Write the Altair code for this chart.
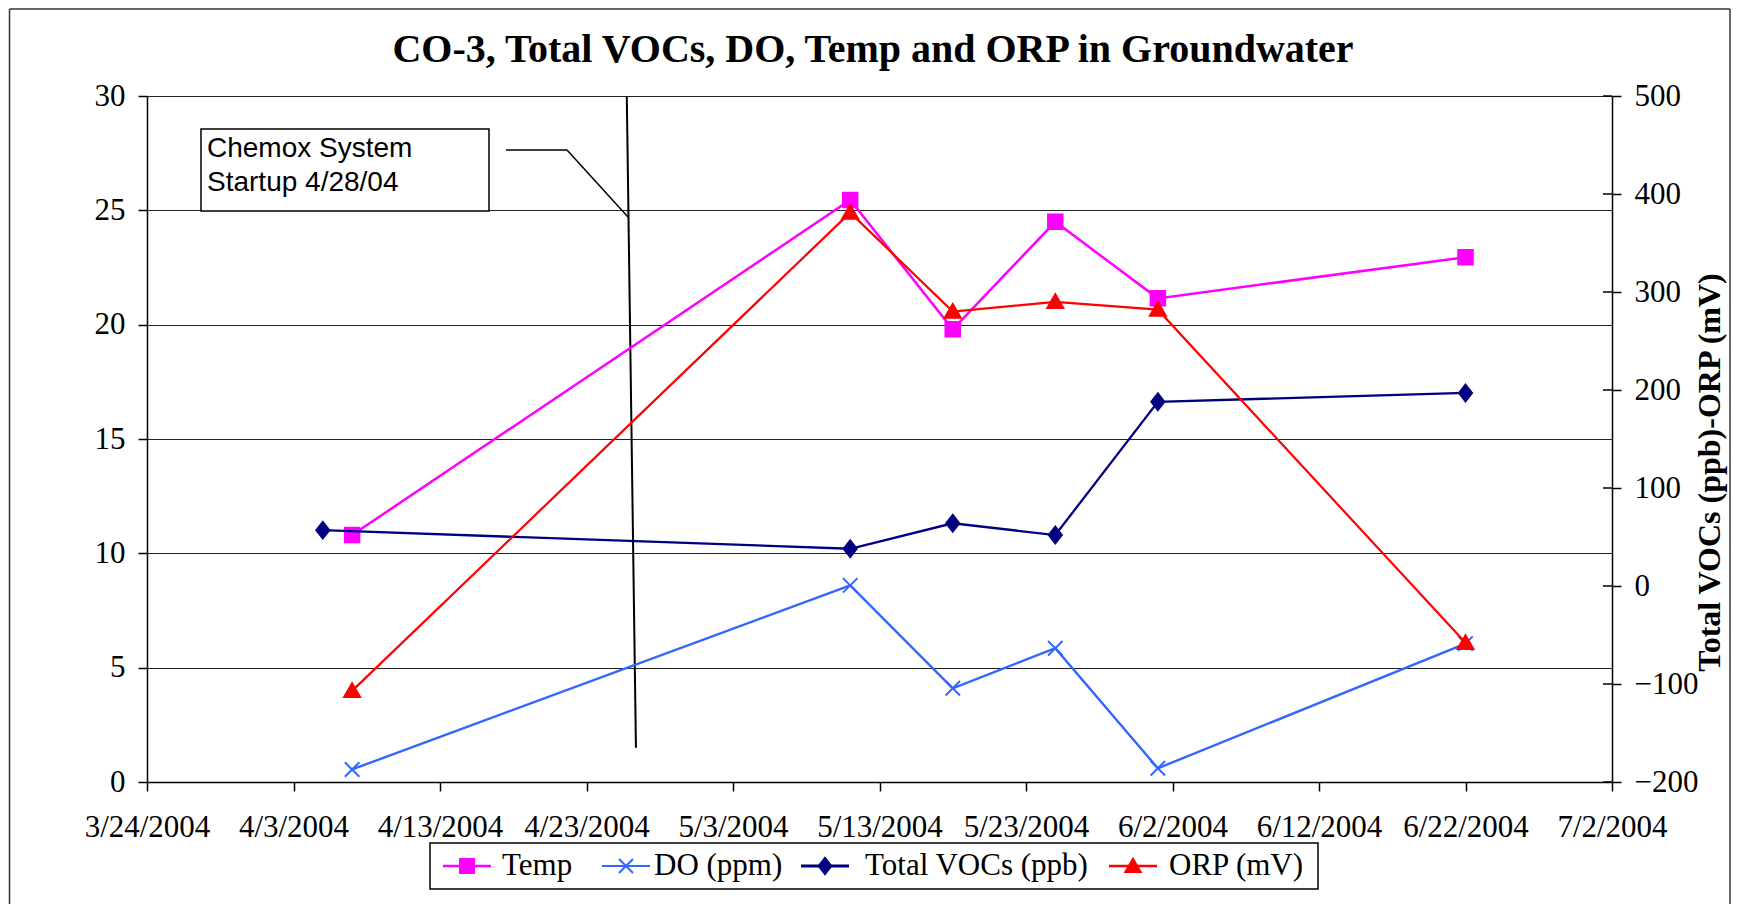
import altair as alt
import pandas as pd

# ---------------- data ----------------
sample_dates = ["2004-04-07", "2004-05-11", "2004-05-18", "2004-05-25", "2004-06-01", "2004-06-22"]
voc_dates = ["2004-04-05", "2004-05-11", "2004-05-18", "2004-05-25", "2004-06-01", "2004-06-22"]
temp = [10.8, 25.45, 19.8, 24.5, 21.15, 22.95]
do_ppm = [0.55, 8.6, 4.1, 5.85, 0.6, 6.05]
total_vocs = [57, 38, 64, 52, 188, 197]
orp_mv = [-107, 381, 280, 290, 282, -58]

series_names = ["Temp", "DO (ppm)", "Total VOCs (ppb)", "ORP (mV)"]
series_colors = ["#FF00FF", "#3366FF", "#000080", "#FF0000"]

x_ticks = ["2004-03-24", "2004-04-03", "2004-04-13", "2004-04-23", "2004-05-03", "2004-05-13",
           "2004-05-23", "2004-06-02", "2004-06-12", "2004-06-22", "2004-07-02"]
left_ticks = [0, 5, 10, 15, 20, 25, 30]
right_ticks = [-200, -100, 0, 100, 200, 300, 400, 500]

chemox_dates = ["2004-04-25T18:00:00", "2004-04-26T09:00:00"]
chemox_vals = [30, 1.5]
chemox_label = ["Chemox System", "Startup 4/28/04"]
title_text = "CO-3, Total VOCs, DO, Temp and ORP in Groundwater"
right_title = "Total VOCs (ppb)-ORP (mV)"

# ---------------- styling / layout ----------------
SERIF = "Liberation Serif"
SANS = "Liberation Sans"
marker_paths = [
    "M-1,-1H1V1H-1Z",                      # square
    "M-1,-1L1,1M-1,1L1,-1",                # x
    "M0,-1.15L0.9,0L0,1.15L-0.9,0Z",       # diamond
    "M0,-1.05L1.1,0.85L-1.1,0.85Z",        # triangle
]
series_widths = [2.5, 2.2, 3.0, 2.5]
legend_marker_x = [320, 479, 678, 986]
legend_label_x = [355, 507, 718, 1022]
legend_y = 770


def ts(s):
    y, m, d = map(int, s.split("-"))
    return alt.DateTime(year=y, month=m, date=d, utc=True)


left_df = pd.DataFrame({
    "date": sample_dates * 2,
    "value": temp + do_ppm,
    "series": [series_names[0]] * len(temp) + [series_names[1]] * len(do_ppm),
})
right_df = pd.DataFrame({
    "date": voc_dates + sample_dates,
    "value": total_vocs + orp_mv,
    "series": [series_names[2]] * len(total_vocs) + [series_names[3]] * len(orp_mv),
})
chemox_df = pd.DataFrame({"date": chemox_dates, "value": chemox_vals})
rtick_df = pd.DataFrame({"value": right_ticks})
one = pd.DataFrame({"k": [0]})

x_enc = alt.X(
    "date:T",
    scale=alt.Scale(type="utc", domain=[ts(x_ticks[0]), ts(x_ticks[-1])]),
    axis=alt.Axis(values=[ts(t) for t in x_ticks],
                  labelExpr="utcFormat(datum.value, '%-m/%-d/%Y')",
                  title=None, grid=False, tickSize=9, labelPadding=21, labelFont=SERIF,
                  labelFontSize=31, labelColor="black", labelFlush=False, labelOverlap=False,
                  domainColor="black", tickColor="black", domainWidth=1.5, tickWidth=1.5),
)
yl_enc = alt.Y(
    "value:Q",
    scale=alt.Scale(domain=[0, 30], nice=False, zero=False),
    axis=alt.Axis(values=left_ticks, orient="left", title=None, grid=True, gridColor="#222222",
                  gridWidth=1, tickSize=9, labelPadding=13, labelFont=SERIF, labelFontSize=31,
                  labelColor="black", domainColor="black", tickColor="black", domainWidth=1.5,
                  tickWidth=1.5, labelFlush=False),
)
yr_enc = alt.Y(
    "value:Q",
    scale=alt.Scale(domain=[-200, 500], nice=False, zero=False),
    axis=alt.Axis(values=right_ticks, orient="right", grid=False, tickSize=9, labelPadding=13,
                  labelFont=SERIF, labelFontSize=31, labelColor="black", domainColor="black",
                  tickColor="black", domainWidth=1.5, tickWidth=1.5, labelFlush=False,
                  title=right_title, titleFont=SERIF, titleFontSize=32, titleFontWeight="bold",
                  titleColor="black", titleAngle=270, titleX=97, titleY=376,
                  titleAlign="center", titleBaseline="middle"),
)

color_scale = alt.Scale(domain=series_names, range=series_colors)
shape_scale = alt.Scale(domain=series_names, range=marker_paths)
width_scale = alt.Scale(domain=series_names, range=series_widths)


def lines(df, y_enc):
    return alt.Chart(df).mark_line().encode(
        x=x_enc, y=y_enc,
        color=alt.Color("series:N", scale=color_scale, legend=None),
        strokeWidth=alt.StrokeWidth("series:N", scale=width_scale, legend=None),
    )


def points(df, y_enc):
    return alt.Chart(df).mark_point(filled=True, opacity=1, size=210, strokeWidth=2).encode(
        x=x_enc, y=y_enc,
        color=alt.Color("series:N", scale=color_scale, legend=None),
        stroke=alt.Stroke("series:N", scale=color_scale, legend=None),
        shape=alt.Shape("series:N", scale=shape_scale, legend=None),
    )


chemox_line = alt.Chart(chemox_df).mark_line(color="black", strokeWidth=2).encode(x=x_enc, y=yl_enc)
right_inner_ticks = alt.Chart(rtick_df).mark_rule(color="black", strokeWidth=1.5).encode(
    y=yr_enc, x=alt.value(1456), x2=alt.value(1465))

left = alt.layer(chemox_line, lines(left_df, yl_enc), points(left_df, yl_enc))
right = alt.layer(right_inner_ticks, lines(right_df, yr_enc), points(right_df, yr_enc))

deco = []
deco.append(alt.Chart(one).mark_rect(fill="white", stroke="black", strokeWidth=1.5).encode(
    x=alt.value(54), x2=alt.value(342), y=alt.value(33), y2=alt.value(115)))
for i, yy in enumerate([61, 95]):
    deco.append(alt.Chart(one).mark_text(align="left", baseline="alphabetic", font=SANS,
                                         fontSize=28, color="black").encode(
        x=alt.value(60), y=alt.value(yy), text=alt.value(chemox_label[i])))
deco.append(alt.Chart(one).mark_rule(color="black", strokeWidth=1.5).encode(
    x=alt.value(359), x2=alt.value(420), y=alt.value(54), y2=alt.value(54)))
deco.append(alt.Chart(one).mark_rule(color="black", strokeWidth=1.5).encode(
    x=alt.value(420), x2=alt.value(481), y=alt.value(54), y2=alt.value(121)))
deco.append(alt.Chart(one).mark_text(align="center", baseline="alphabetic", font=SERIF,
                                     fontSize=40, fontWeight="bold", color="black").encode(
    x=alt.value(726), y=alt.value(-34), text=alt.value(title_text)))
# outer frame
for (a, b, c, d) in [(-137.5, -137.5, -87, 808), (-137.5, 1583, -87, -87), (1583, 1583, -87, 808)]:
    deco.append(alt.Chart(one).mark_rule(color="#333333", strokeWidth=1.5).encode(
        x=alt.value(a), x2=alt.value(b), y=alt.value(c), y2=alt.value(d)))
# legend
deco.append(alt.Chart(one).mark_rect(fill="white", stroke="black", strokeWidth=1.5).encode(
    x=alt.value(283), x2=alt.value(1171), y=alt.value(747), y2=alt.value(793)))
for i, name in enumerate(series_names):
    mx = legend_marker_x[i]
    deco.append(alt.Chart(one).mark_rule(color=series_colors[i], strokeWidth=series_widths[i]).encode(
        x=alt.value(mx - 24), x2=alt.value(mx + 24), y=alt.value(legend_y), y2=alt.value(legend_y)))
    deco.append(alt.Chart(one).mark_point(shape=marker_paths[i], filled=True, opacity=1,
                                          size=196, fill=series_colors[i],
                                          stroke=series_colors[i], strokeWidth=2).encode(
        x=alt.value(mx), y=alt.value(legend_y)))
    deco.append(alt.Chart(one).mark_text(align="left", baseline="middle", font=SERIF,
                                         fontSize=31, color="black").encode(
        x=alt.value(legend_label_x[i]), y=alt.value(legend_y), text=alt.value(name)))

chart = alt.layer(left, right, *deco).resolve_scale(y="independent").properties(
    width=1465, height=686,
    padding={"left": 139, "top": 88, "right": 120, "bottom": 122},
    autosize=alt.AutoSizeParams(type="none"),
    background="white",
).configure_view(stroke=None)

chart.save("out.html", embed_options={"renderer": "svg", "actions": False})
